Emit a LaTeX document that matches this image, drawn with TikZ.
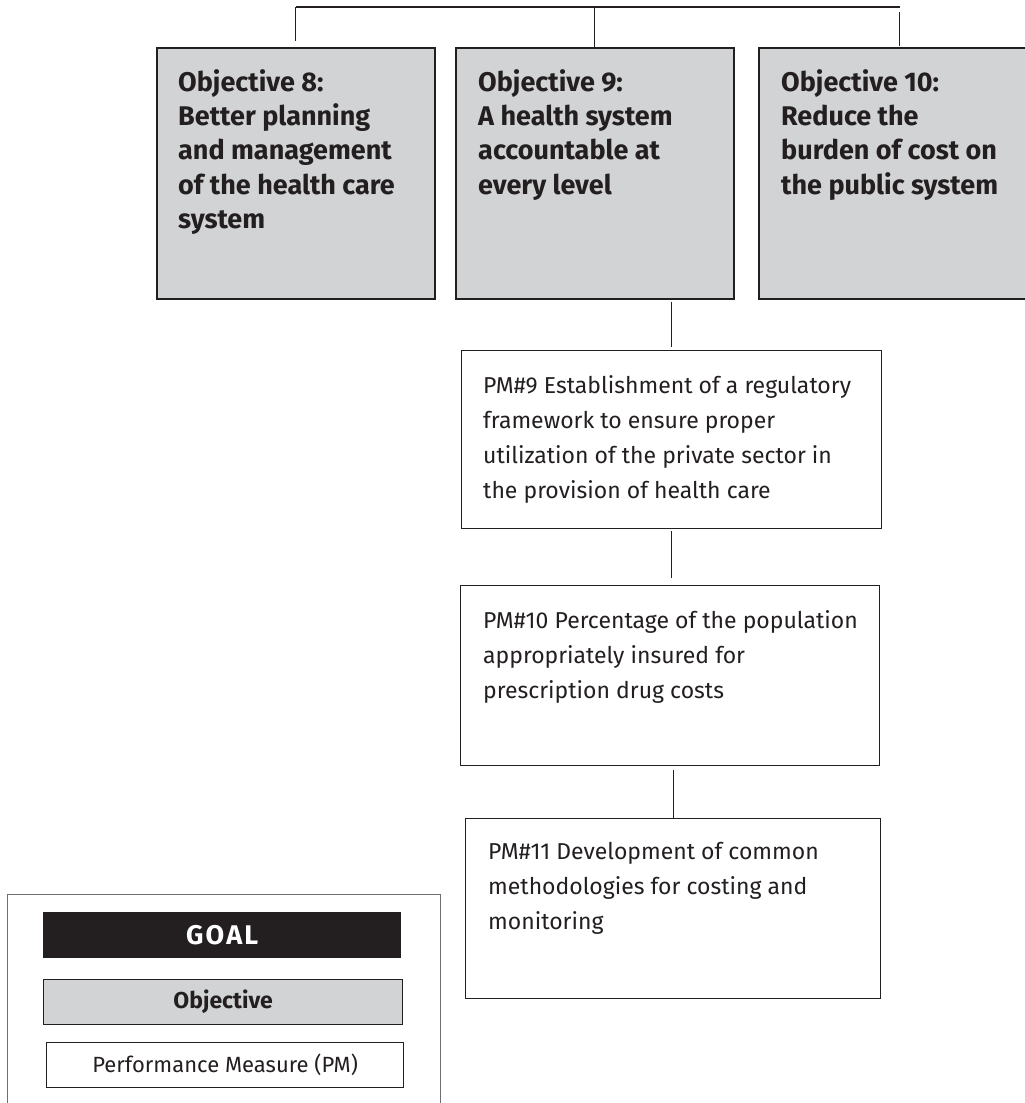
\documentclass[tikz,border=0pt]{standalone}
\usepackage{fontspec}
\setmainfont{Fira Sans}
\usetikzlibrary{calc}
\definecolor{objgray}{HTML}{D1D3D4}
\definecolor{ink}{HTML}{231F20}
\definecolor{leggray}{HTML}{6D6E71}
\begin{document}
\begin{tikzpicture}[x=1pt,y=-1pt,
  objbox/.style={draw=ink, line width=1.5pt, fill=objgray, inner sep=0pt, anchor=north west, minimum height=251pt},
  pmbox/.style={draw=ink, line width=1.3pt, fill=white, inner sep=0pt, anchor=north west},
  objtxt/.style={inner sep=0pt, anchor=north west, align=left, text=ink, font=\fontsize{27}{34.4}\selectfont\bfseries},
  pmtxt/.style={inner sep=0pt, anchor=north west, align=left, text=ink, font=\fontsize{23}{35}\selectfont},
  conn/.style={draw=ink, line width=1.2pt}
]
\useasboundingbox (0,0) rectangle (1025,1103);
\clip (0,0) rectangle (1025,1103);
% objectives
\node[objbox, minimum width=278pt] (o8) at (156,47) {};
\node[objbox, minimum width=278pt] (o9) at (455,47) {};
\node[objbox, minimum width=282pt] (o10) at (758,47) {};
\node[objtxt] (o8t) at ($(o8.north west)+(22,22)$) {Objective 8:\\Better planning\\and management\\of the health care\\system};
\node[objtxt] (o9t) at ($(o9.north west)+(23,22)$) {Objective 9:\\A health system\\accountable at\\every level};
\node[objtxt] (o10t) at ($(o10.north west)+(23,22)$) {Objective 10:\\Reduce the\\burden of cost on\\the public system};
% bus
\coordinate (busL) at (296,7);
\coordinate (busR) at (900,7);
\draw[conn] (busL) -- (busR);
\draw[conn, shorten <=6pt] (o8.north) -- (o8.north |- busL);
\draw[conn] (o9.north) -- (o9.north |- busL);
\draw[conn, shorten <=1pt, shorten >=5pt] (o10.north) -- (o10.north |- busR);
% performance measures
\node[pmbox, minimum width=420pt, minimum height=178pt] (pm9) at (461,350) {};
\node[pmbox, minimum width=419pt, minimum height=180pt] (pm10) at (460,585) {};
\node[pmbox, minimum width=415pt, minimum height=180pt] (pm11) at (465,818) {};
\node[pmtxt] (pm9t) at ($(pm9.north west)+(22,25)$) {PM\#9 Establishment of a regulatory\\framework to ensure proper\\utilization of the private sector in\\the provision of health care};
\node[pmtxt] (pm10t) at ($(pm10.north west)+(23,25)$) {PM\#10 Percentage of the population\\appropriately insured for\\prescription drug costs};
\node[pmtxt] (pm11t) at ($(pm11.north west)+(23,24)$) {PM\#11 Development of common\\methodologies for costing and\\monitoring};
\draw[conn, shorten <=2pt, shorten >=3pt] (o9.south -| pm9.north) -- (pm9.north);
\draw[conn, shorten <=2pt, shorten >=7pt] (pm9.south) -- (pm9.south |- pm10.north);
\draw[conn, shorten <=4pt] (pm11.north |- pm10.south) -- (pm11.north);
% legend
\node[draw=leggray, line width=1.2pt, fill=white, minimum width=433pt, minimum height=240pt, anchor=north west, inner sep=0pt] (leg) at (7,894) {};
\node[fill=ink, minimum width=358pt, minimum height=46pt, anchor=north west, inner sep=0pt, text=white,
  font=\fontsize{27}{30}\selectfont\bfseries\addfontfeature{LetterSpace=8}] (goal) at (43,912) {GOAL};
\node[draw=ink, line width=1.3pt, fill=objgray, minimum width=359pt, minimum height=45pt, anchor=north west, inner sep=0pt, text=ink,
  font=\fontsize{23}{26}\selectfont\bfseries] (obj) at (43,979) {Objective};
\node[draw=ink, line width=1.3pt, fill=white, minimum width=357pt, minimum height=45pt, anchor=north west, inner sep=0pt, text=ink,
  font=\fontsize{22}{26}\selectfont] (pm) at (46,1042) {Performance Measure (PM)};
\end{tikzpicture}
\end{document}
